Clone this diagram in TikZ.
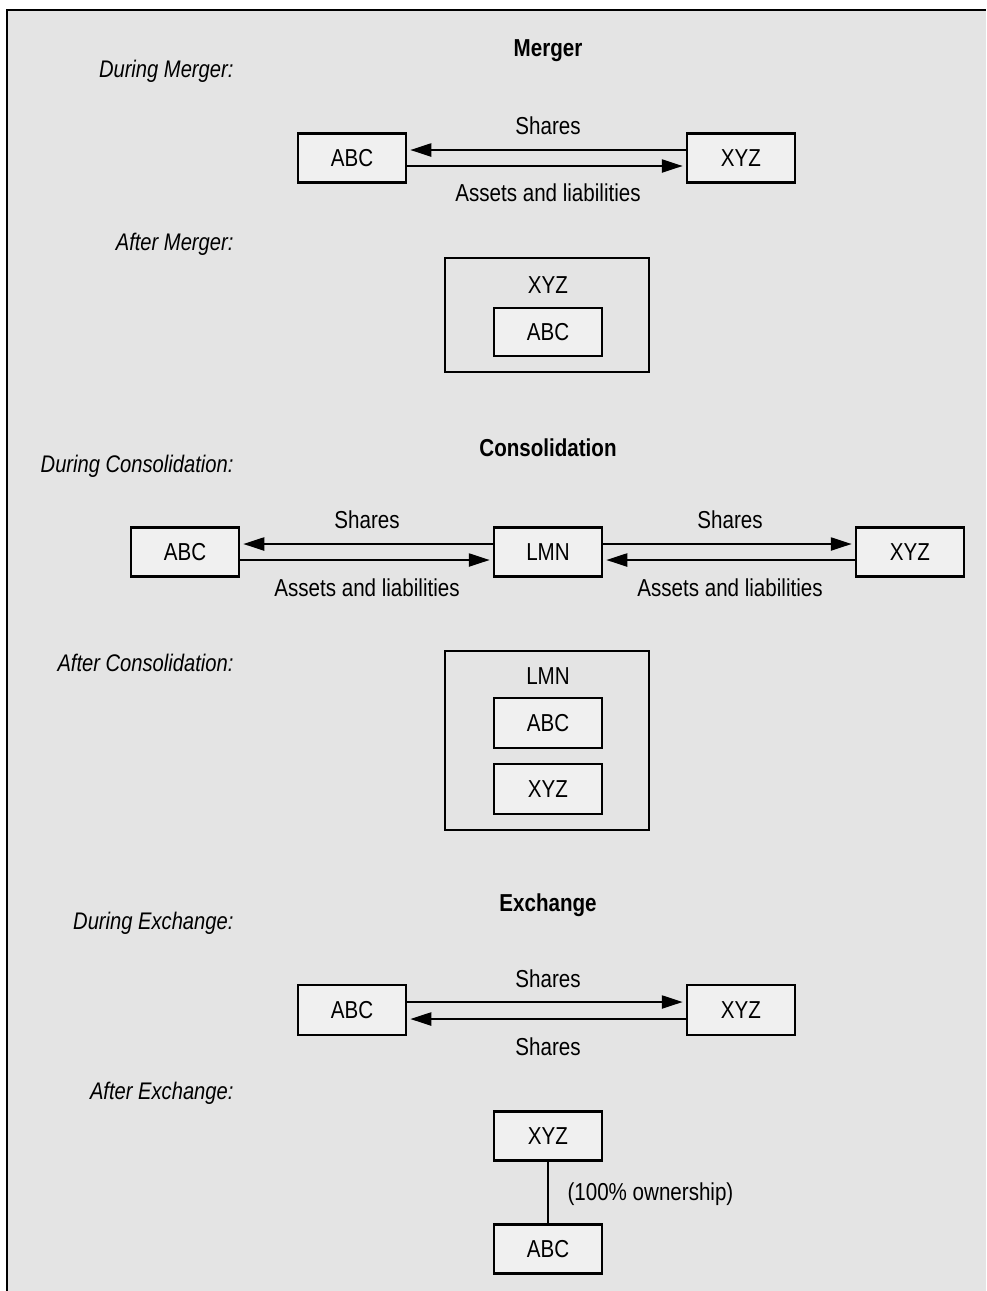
\documentclass[tikz,border=0pt]{standalone}
\usepackage{fontspec}
\setmainfont{Liberation Sans}[FakeStretch=0.84]
\usetikzlibrary{arrows.meta}
\definecolor{bg}{HTML}{E4E4E4}
\definecolor{boxfill}{HTML}{F0F0F0}
\begin{document}
\begin{tikzpicture}[x=1pt,y=-1pt,
  every node/.style={font=\fontsize{24.5}{28}\selectfont},
  box/.style={draw, line width=2.5pt, fill=boxfill, minimum width=108pt, minimum height=49pt, inner sep=0pt},
  outerbox/.style={draw, line width=2.5pt, fill=bg, inner sep=0pt},
  lbl/.style={anchor=east, font=\fontsize{24}{28}\selectfont\itshape},
  ttl/.style={font=\fontsize{24.5}{28}\selectfont\bfseries},
  arr/.style={line width=2.3pt, -{Triangle[length=21pt,width=13pt]}, shorten >=3pt},
  link/.style={line width=2.3pt},
]
\useasboundingbox (0,0) rectangle (986,1291);
\fill[bg] (7,10) rectangle (986,1291);
\draw[line width=2pt] (7,1291) -- (7,10) -- (986,10);

% ---------- Merger ----------
\node[ttl] (t1) at (548,51) {Merger};
\node[lbl] (l1) at (237,71) {During Merger:};
\node[box] (m-abc) at (352,158) {ABC};
\node[box] (m-xyz) at (741,158) {XYZ};
\draw[arr] ([yshift=8pt]m-xyz.west) -- ([yshift=8pt]m-abc.east);
\draw[arr] ([yshift=-8pt]m-abc.east) -- ([yshift=-8pt]m-xyz.west);
\node (m-sh) at (548,126) {Shares};
\node (m-al) at (548,193) {Assets and liabilities};

\node[lbl] (l2) at (237,244) {After Merger:};
\node[outerbox, minimum width=204pt, minimum height=114pt] (am-out) at (547,315) {};
\node (am-xyz) at (548,285) {XYZ};
\node[box, minimum height=48pt] (am-abc) at (548,332) {ABC};

% ---------- Consolidation ----------
\node[ttl] (t2) at (548,448) {Consolidation};
\node[lbl] (l3) at (237,466) {During Consolidation:};
\node[box] (c-abc) at (185,552) {ABC};
\node[box] (c-lmn) at (548,552) {LMN};
\node[box] (c-xyz) at (910,552) {XYZ};
\draw[arr] ([yshift=8pt]c-lmn.west) -- ([yshift=8pt]c-abc.east);
\draw[arr] ([yshift=-8pt]c-abc.east) -- ([yshift=-8pt]c-lmn.west);
\draw[arr] ([yshift=8pt]c-lmn.east) -- ([yshift=8pt]c-xyz.west);
\draw[arr] ([yshift=-8pt]c-xyz.west) -- ([yshift=-8pt]c-lmn.east);
\node (c-sh1) at (367,520) {Shares};
\node (c-sh2) at (730,520) {Shares};
\node (c-al1) at (367,588) {Assets and liabilities};
\node (c-al2) at (730,588) {Assets and liabilities};

\node[lbl] (l4) at (237,663) {After Consolidation:};
\node[outerbox, minimum width=204pt, minimum height=179pt] (ac-out) at (547,740.5) {};
\node (ac-lmn) at (548,676) {LMN};
\node[box, minimum height=50pt] (ac-abc) at (548,723) {ABC};
\node[box, minimum height=50pt] (ac-xyz) at (548,789) {XYZ};

% ---------- Exchange ----------
\node[ttl] (t3) at (548,905) {Exchange};
\node[lbl] (l5) at (237,923) {During Exchange:};
\node[box, minimum height=50pt] (e-abc) at (352,1010) {ABC};
\node[box, minimum height=50pt] (e-xyz) at (741,1010) {XYZ};
\draw[arr] ([yshift=8pt]e-abc.east) -- ([yshift=8pt]e-xyz.west);
\draw[arr] ([yshift=-9pt]e-xyz.west) -- ([yshift=-9pt]e-abc.east);
\node (e-sh1) at (548,979) {Shares};
\node (e-sh2) at (548,1047) {Shares};

\node[lbl] (l6) at (237,1093) {After Exchange:};
\node[box] (ae-xyz) at (548,1136) {XYZ};
\node[box] (ae-abc) at (548,1249) {ABC};
\draw[link] (ae-xyz.south) -- (ae-abc.north);
\node[anchor=west] (ae-own) at (564,1194) {(100\% ownership)};
\end{tikzpicture}
\end{document}
